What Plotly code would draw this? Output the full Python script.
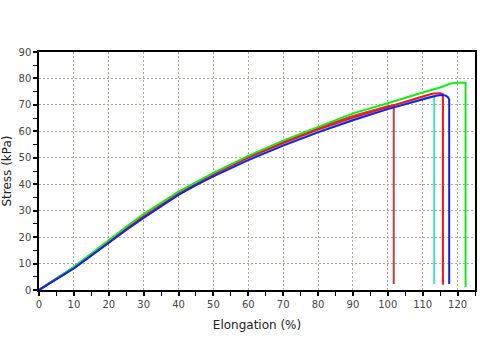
import plotly.graph_objects as go

# Elongation (%) / Stress (kPa) readings for each specimen
cyan_x = [0, 5, 10, 15, 20, 30, 40, 50, 60, 70, 80, 90, 100, 105, 110, 113.3, 113.3]
cyan_y = [0, 4.1, 8.3, 13.1, 18.0, 27.5, 36.2, 43.2, 49.4, 54.9, 59.9, 64.5, 68.7, 70.6, 72.5, 73.4, 2.3]

darkred_x = [0, 5, 10, 15, 20, 30, 40, 50, 60, 70, 80, 90, 100, 101.7, 101.7]
darkred_y = [0, 4.2, 8.6, 13.5, 18.5, 28.2, 36.9, 44.0, 50.4, 56.0, 61.3, 65.8, 69.5, 69.8, 2.3]

red_x = [0, 5, 10, 15, 20, 30, 40, 50, 60, 70, 80, 90, 100, 105, 110, 113, 115, 115.8, 115.8]
red_y = [0, 4.2, 8.5, 13.3, 18.3, 27.9, 36.6, 43.7, 50.1, 55.6, 60.7, 65.2, 69.3, 71.3, 73.2, 74.3, 74.4, 74.0, 2.0]

green_x = [0, 5, 10, 15, 20, 25, 30, 35, 40, 50, 60, 70, 80, 90, 100, 105, 110, 115, 118, 120, 122, 122.3, 122.3]
green_y = [0, 4.3, 8.8, 13.8, 18.9, 23.9, 28.7, 33.1, 37.2, 44.3, 50.7, 56.5, 61.8, 66.8, 70.6, 72.7, 74.7, 76.6, 78.1, 78.4, 78.6, 78.4, 1.1]

blue_x = [0, 5, 10, 15, 20, 25, 30, 35, 40, 45, 50, 60, 70, 80, 90, 100, 105, 110, 113, 115, 116.5, 117.2, 117.6, 117.6]
blue_y = [0, 4.0, 8.2, 13.0, 17.9, 22.7, 27.3, 31.8, 36.0, 39.7, 43.0, 49.1, 54.6, 59.6, 64.2, 68.4, 70.3, 72.2, 73.2, 73.7, 73.6, 73.0, 72.0, 2.3]

series = [
    ("Specimen 5", cyan_x, cyan_y, "#40e0d0"),
    ("Specimen 4", darkred_x, darkred_y, "#c04040"),
    ("Specimen 3", red_x, red_y, "#ff1010"),
    ("Specimen 2", green_x, green_y, "#10f010"),
    ("Specimen 1", blue_x, blue_y, "#1a1aff"),
]

fig = go.Figure()
for name, xs, ys, col in series:
    fig.add_trace(go.Scatter(x=xs, y=ys, mode="lines", name=name,
                             line=dict(color=col, width=2)))

grid_col = "#a8a898"
fig.update_layout(
    width=480, height=360,
    margin=dict(l=39, r=5, t=52, b=70, autoexpand=False),
    paper_bgcolor="white", plot_bgcolor="white",
    showlegend=False,
    font=dict(family="DejaVu Sans", size=10, color="#444444"),
)
fig.update_xaxes(
    range=[0, 125], dtick=10, tick0=0, automargin=False,
    showline=True, linecolor="black", linewidth=1.5, mirror=True,
    ticks="outside", ticklen=4, tickwidth=1.5, tickcolor="black",
    showgrid=True, gridcolor=grid_col, gridwidth=1.2, griddash="2px,2px",
    zeroline=False,
    minor=dict(dtick=5, ticks="outside", ticklen=4, tickwidth=1.2, tickcolor="black", showgrid=False),
    title=dict(text="Elongation (%)", font=dict(size=12, color="#222222"), standoff=12),
)
fig.update_yaxes(
    range=[0, 90], dtick=10, tick0=0, automargin=False,
    showline=True, linecolor="black", linewidth=1.5, mirror=True,
    ticks="outside", ticklen=4, tickwidth=1.5, tickcolor="black",
    showgrid=True, gridcolor=grid_col, gridwidth=1.2, griddash="2px,2px",
    zeroline=False,
    minor=dict(dtick=5, ticks="outside", ticklen=4, tickwidth=1.2, tickcolor="black", showgrid=False),
    title=dict(text="Stress (kPa)", font=dict(size=12, color="#222222"), standoff=4),
)

fig.write_html(
    "out.html",
    config={"displayModeBar": False},
    post_script="document.body.style.margin='0px';document.body.style.overflow='hidden';",
)
